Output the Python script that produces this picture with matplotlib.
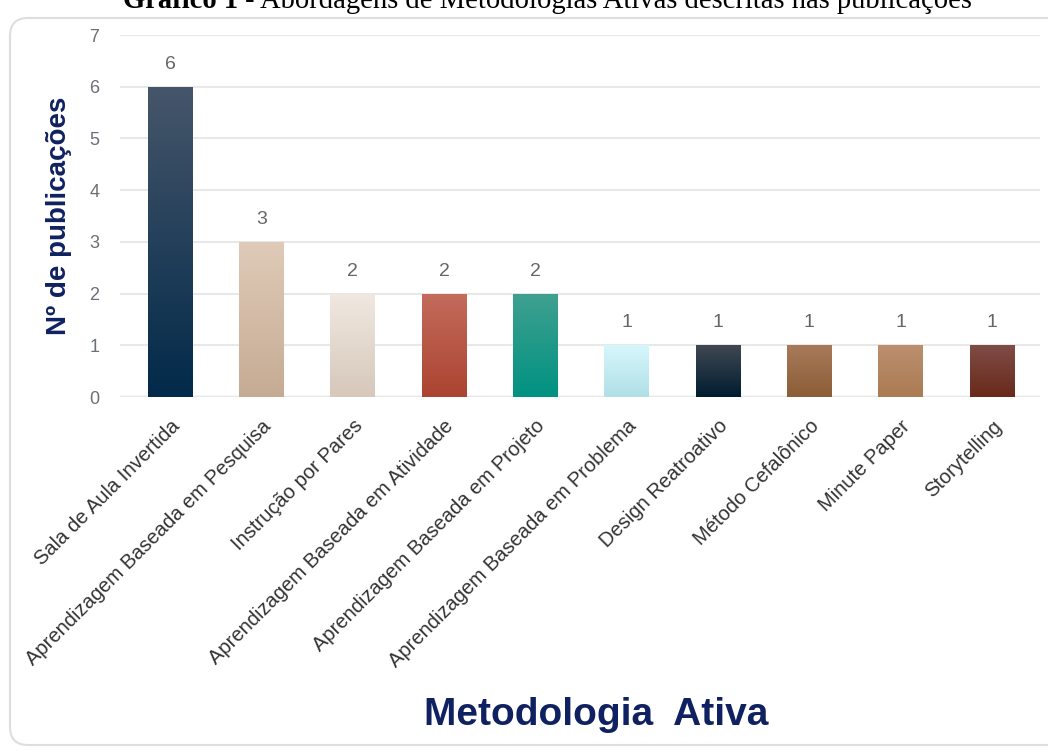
import numpy as np
import matplotlib.pyplot as plt
import matplotlib.patches as mpatches
from matplotlib.colors import to_rgb
from matplotlib.transforms import IdentityTransform

plt.rcParams['font.family'] = ['Liberation Sans', 'DejaVu Sans']

metodologias = [
    "Sala de Aula Invertida",
    "Aprendizagem Baseada em Pesquisa",
    "Instrução por Pares",
    "Aprendizagem Baseada em Atividade",
    "Aprendizagem Baseada em Projeto",
    "Aprendizagem Baseada em Problema",
    "Design Reatroativo",
    "Método Cefalônico",
    "Minute Paper",
    "Storytelling",
]
publicacoes = [6, 3, 2, 2, 2, 1, 1, 1, 1, 1]

# (topo, base) de cada gradiente
cores = [
    ("#46566a", "#022a4a"),
    ("#dfcbb8", "#c6ab94"),
    ("#f0e8e1", "#d6c8ba"),
    ("#c46b5c", "#ab4430"),
    ("#40a090", "#009282"),
    ("#d6f7fc", "#b0dfe6"),
    ("#404852", "#001c30"),
    ("#a77a5b", "#8c5d36"),
    ("#bb8f6f", "#ab7b52"),
    ("#7e4d45", "#69291b"),
]

W, H = 1048, 754
fig = plt.figure(figsize=(W / 100, H / 100), dpi=100)

# moldura arredondada
moldura = mpatches.FancyBboxPatch((10, 9), 1100, 727, boxstyle="round,pad=0,rounding_size=18",
                                  transform=IdentityTransform(), facecolor="white",
                                  edgecolor="#dedede", linewidth=1.5, zorder=-5)
fig.add_artist(moldura)

# titulo (cortado no topo, como na imagem)
t1 = fig.text(123 / W, 1 - 14 / H, "Gráfico 1", family="Liberation Serif", fontweight="bold",
              fontsize=20.6, va="bottom", ha="left")
t2 = fig.text(0, 0, " - Abordagens de Metodologias Ativas descritas nas publicações",
              family="Liberation Serif", fontsize=20.6, va="bottom", ha="left")

ax = fig.add_axes([120 / W, (H - 397) / H, 920 / W, 362 / H])
ax.set_facecolor("none")

x = np.arange(len(metodologias))
largura = 0.49
barras = ax.bar(x, publicacoes, largura, color=[c[1] for c in cores], zorder=2)

for b, (topo, base) in zip(barras, cores):
    c0 = np.array(to_rgb(topo))
    c1 = np.array(to_rgb(base))
    t = np.linspace(0, 1, 256)[:, None]
    grad = (c0 * (1 - t) + c1 * t)[:, None, :]
    x0, y0 = b.get_x(), b.get_y()
    img = ax.imshow(grad, extent=[x0, x0 + b.get_width(), y0, y0 + b.get_height()],
                    aspect="auto", origin="upper", interpolation="bilinear", zorder=2)
    img.set_clip_path(b)

for xi, v in zip(x, publicacoes):
    ax.annotate(str(v), xy=(xi, v), xytext=(0, 10), textcoords="offset points",
                ha="center", va="bottom", fontsize=14, color="#666666")

ax.set_xlim(-0.548, 9.526)
ax.set_ylim(0, 7)
ax.set_yticks(range(0, 8))
ax.yaxis.grid(True, color="#e8e8e8", linewidth=1.5, zorder=0)
ax.axhline(0, color="#dcdfe2", linewidth=2.5, zorder=1)
for s in ax.spines.values():
    s.set_visible(False)
ax.tick_params(axis="both", length=0)
ax.tick_params(axis="y", labelsize=13, labelcolor="#6b6f78", pad=15)

ax.set_xticks(x)
ax.set_xticklabels(metodologias, rotation=45, ha="right", rotation_mode="anchor",
                   fontsize=14.5, color="#333333")
ax.tick_params(axis="x", pad=14)

ax.set_ylabel("Nº de publicações", fontsize=20, fontweight="bold", color="#0f2160")
ax.yaxis.set_label_coords(-0.052, 0.5)
ax.set_xlabel("Metodologia  Ativa", fontsize=28, fontweight="bold", color="#0f2160")
ax.xaxis.set_label_coords(0.518, -0.83)

# posiciona a segunda parte do titulo logo depois da parte em negrito
fig.canvas.draw()
bb = t1.get_window_extent()
t2.set_position((bb.x1 / W, bb.y0 / H))

fig.savefig("out.png", dpi=100)
